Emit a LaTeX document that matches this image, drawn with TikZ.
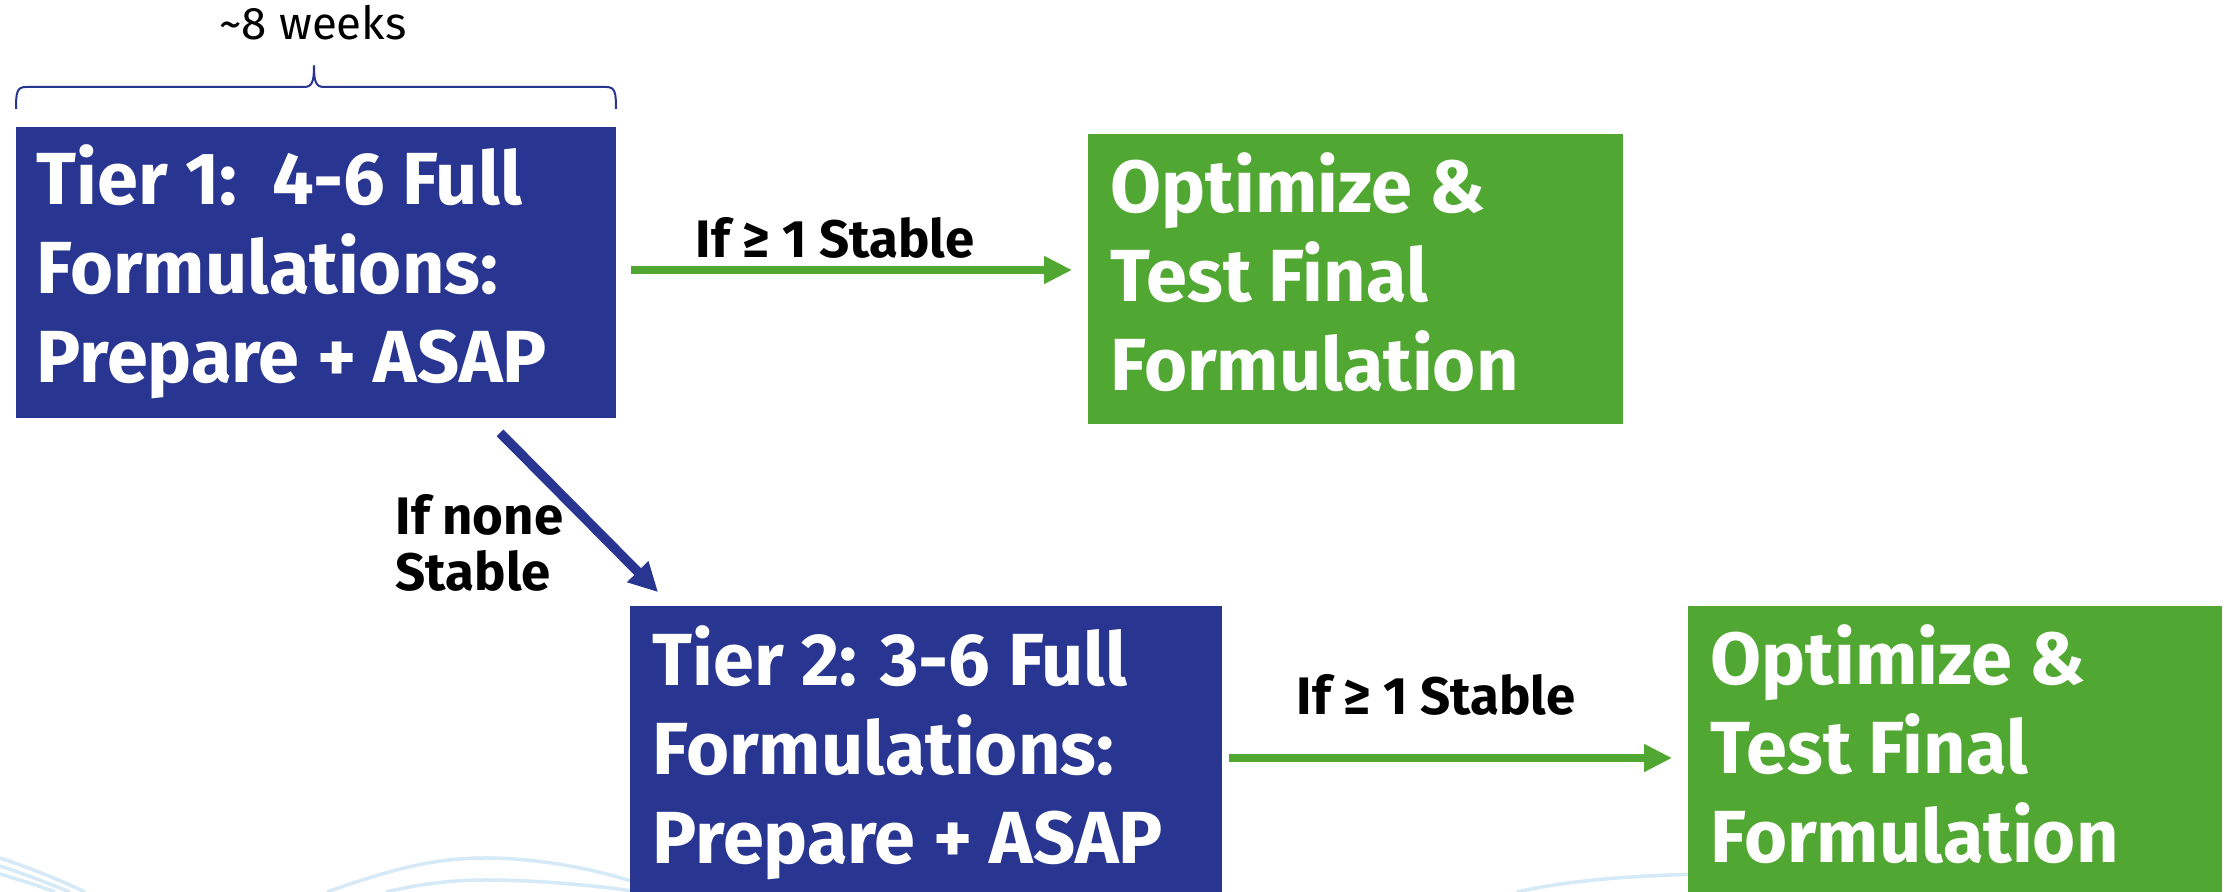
\documentclass[tikz,border=0pt]{standalone}
\usepackage{fontspec}
\setmainfont{Fira Sans}
\usetikzlibrary{arrows.meta,calc}
\definecolor{tierblue}{RGB}{40,54,146}
\definecolor{optgreen}{RGB}{80,167,50}
\definecolor{wave}{RGB}{214,233,246}
\tikzset{
  tierbox/.style={fill=tierblue, draw=none, inner sep=0pt},
  optbox/.style={fill=optgreen, draw=none, inner sep=0pt},
  boxtext/.style={anchor=base west, inner sep=0pt, text=white, font=\bfseries\fontsize{21}{25.3}\selectfont},
  lbl/.style={anchor=base west, inner sep=0pt, text=black, font=\bfseries\fontsize{15}{15.1}\selectfont},
  garrow/.style={draw=optgreen, line width=0.085cm, -{Triangle[length=0.28cm,width=0.26cm]}},
  barrow/.style={draw=tierblue, line width=0.095cm, -{Triangle[length=0.29cm,width=0.28cm]}},
  wavestyle/.style={draw=wave, line width=0.035cm}
}
\begin{document}
\begin{tikzpicture}[x=0.01cm,y=-0.01cm]
\useasboundingbox (0,0) rectangle (2229,892);
\clip (0,0) rectangle (2229,892);
\fill[white] (0,0) rectangle (2229,892);
% faint background waves
\draw[wavestyle] (0,858) .. controls (30,868) and (60,880) .. (85,892);
\draw[wavestyle] (0,866) .. controls (25,874) and (50,884) .. (70,892);
\draw[wavestyle] (0,874) .. controls (20,880) and (40,886) .. (55,892);
\draw[wavestyle] (327,892) .. controls (400,866) and (440,858) .. (486,858) .. controls (540,858) and (600,870) .. (640,884);
\draw[wavestyle] (386,892) .. controls (420,884) and (450,880) .. (486,880) .. controls (540,880) and (600,886) .. (640,892);
\draw[wavestyle] (1517,892) .. controls (1570,880) and (1630,876) .. (1700,874);
% boxes
\node[tierbox, minimum width=6cm, minimum height=2.91cm] (t1) at (316,272.5) {};
\node[optbox, minimum width=5.35cm, minimum height=2.90cm] (g1) at (1355.5,279) {};
\node[tierbox, minimum width=5.92cm, minimum height=3.04cm] (t2) at (926,758) {};
\node[optbox, minimum width=5.34cm, minimum height=3.04cm] (g2) at (1955,758) {};
% box texts
\node[boxtext] (t1txt) at (36,205) {\begin{tabular}[t]{@{}l@{}}Tier 1:\ \ 4-6 Full\\Formulations:\\Prepare + ASAP\end{tabular}};
\node[boxtext] (g1txt) at (1110,213) {\begin{tabular}[t]{@{}l@{}}Optimize \&\\Test Final\\Formulation\end{tabular}};
\node[boxtext] (t2txt) at (652,686) {\begin{tabular}[t]{@{}l@{}}Tier 2: 3-6 Full\\Formulations:\\Prepare + ASAP\end{tabular}};
\node[boxtext] (g2txt) at (1710,685) {\begin{tabular}[t]{@{}l@{}}Optimize \&\\Test Final\\Formulation\end{tabular}};
% brace and duration
\draw[tierblue, line width=0.02cm, line join=round]
  (16,109) .. controls (16,92) and (17,87) .. (26,87) -- (304,87)
  .. controls (312,87) and (314,82) .. (314,66)
  .. controls (314,82) and (316,87) .. (324,87) -- (606,87)
  .. controls (615,87) and (616,92) .. (616,109);
\node[anchor=base, inner sep=0pt, font=\fontsize{13}{15}\selectfont] (dur) at (313,40) {\textasciitilde 8 weeks};
% connectors
\draw[garrow, shorten <=0.14cm, shorten >=0.15cm] (t1.east |- 0,270) -- (g1.west |- 0,270);
\node[lbl] (l1) at (695,258) {If ≥ 1 Stable};
\draw[garrow, shorten <=0.06cm, shorten >=0.15cm] (t2.east) -- (g2.west);
\node[lbl] (l2) at (1296,715) {If ≥ 1 Stable};
\draw[barrow] ($(t1.south)+(184,14)$) -- ($(t2.north west)+(29,-13)$);
\node[lbl] (l3) at (395,535) {\begin{tabular}[t]{@{}l@{}}If none\\Stable\end{tabular}};
\end{tikzpicture}
\end{document}
